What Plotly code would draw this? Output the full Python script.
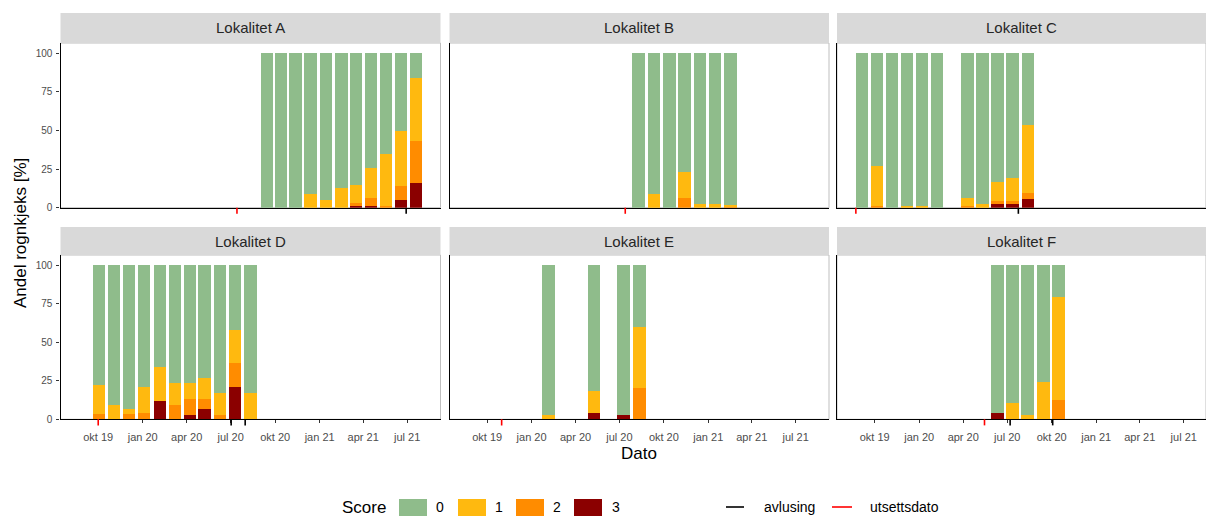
import plotly.graph_objects as go

W, H = 1206, 517

sites = ["Lokalitet A", "Lokalitet B", "Lokalitet C", "Lokalitet D", "Lokalitet E", "Lokalitet F"]
score_labels = ["0", "1", "2", "3"]
score_colors = ["#8FBC8B", "#FFB90F", "#FF8C00", "#8B0000"]

# andel (%) per score, en stolpe per prøvetaking
a_dates = ["2020-09-14", "2020-10-13", "2020-11-12", "2020-12-13", "2021-01-14", "2021-02-15",
           "2021-03-17", "2021-04-17", "2021-05-18", "2021-06-18", "2021-07-19"]
a_s0 = [100, 100, 100, 91, 95, 87, 85, 74, 65, 50, 16]
a_s1 = [0, 0, 0, 9, 5, 13, 12, 20, 34, 36, 41]
a_s2 = [0, 0, 0, 0, 0, 0, 2, 5, 1, 9, 27]
a_s3 = [0, 0, 0, 0, 0, 0, 1, 1, 0, 5, 16]

b_dates = ["2020-08-10", "2020-09-11", "2020-10-13", "2020-11-13", "2020-12-15", "2021-01-15", "2021-02-16"]
b_s0 = [100, 91, 100, 77, 97.5, 97.5, 98]
b_s1 = [0, 9, 0, 17, 2.5, 2.5, 1]
b_s2 = [0, 0, 0, 6, 0, 0, 1]
b_s3 = [0, 0, 0, 0, 0, 0, 0]

c_dates = ["2019-09-05", "2019-10-06", "2019-11-06", "2019-12-07", "2020-01-07", "2020-02-07",
           "2020-04-10", "2020-05-11", "2020-06-11", "2020-07-12", "2020-08-13"]
c_s0 = [100, 73, 100, 99, 99, 100, 93.5, 97.5, 83.5, 80.5, 46.5]
c_s1 = [0, 26, 0, 1, 1, 0, 5.5, 2.5, 12, 15, 44]
c_s2 = [0, 1, 0, 0, 0, 0, 1, 0, 2, 2, 4]
c_s3 = [0, 0, 0, 0, 0, 0, 0, 0, 2.5, 2.5, 5.5]

d_dates = ["2019-10-03", "2019-11-03", "2019-12-04", "2020-01-04", "2020-02-06", "2020-03-08",
           "2020-04-08", "2020-05-08", "2020-06-09", "2020-07-10", "2020-08-11"]
d_s0 = [78, 91, 93.5, 79, 66, 76.5, 76.5, 73, 83, 42, 83]
d_s1 = [18.5, 9, 3, 17, 22, 14.5, 10, 13.5, 14, 21.5, 17]
d_s2 = [3.5, 0, 3.5, 4, 0, 9, 10.5, 6.5, 3, 15.5, 0]
d_s3 = [0, 0, 0, 0, 12, 0, 3, 7, 0, 21, 0]

e_dates = ["2020-02-05", "2020-05-09", "2020-07-09", "2020-08-11"]
e_s0 = [97, 81.5, 97, 40]
e_s1 = [3, 14.5, 0, 39.5]
e_s2 = [0, 0, 0, 20.5]
e_s3 = [0, 4, 3, 0]

f_dates = ["2020-06-11", "2020-07-12", "2020-08-12", "2020-09-14", "2020-10-15"]
f_s0 = [96, 89.5, 97, 76, 20.5]
f_s1 = [0, 10.5, 3, 24, 67]
f_s2 = [0, 0, 0, 0, 12.5]
f_s3 = [4, 0, 0, 0, 0]

utsett_dates = ["2020-07-14", "2020-07-13", "2019-08-23", "2019-10-01", "2019-10-31", "2020-05-15"]
avlusing_dates = [["2021-06-29"], [], ["2020-07-24"], ["2020-07-02", "2020-07-31"], [], ["2020-07-07", "2020-10-03"]]

tick_dates = ["2019-10-01", "2020-01-01", "2020-04-01", "2020-07-01",
              "2020-10-01", "2021-01-01", "2021-04-01", "2021-07-01"]
tick_text = ["okt 19", "jan 20", "apr 20", "jul 20", "okt 20", "jan 21", "apr 21", "jul 21"]

site_data = [
    (a_dates, [a_s3, a_s2, a_s1, a_s0]),
    (b_dates, [b_s3, b_s2, b_s1, b_s0]),
    (c_dates, [c_s3, c_s2, c_s1, c_s0]),
    (d_dates, [d_s3, d_s2, d_s1, d_s0]),
    (e_dates, [e_s3, e_s2, e_s1, e_s0]),
    (f_dates, [f_s3, f_s2, f_s1, f_s0]),
]


def px_x(p):
    return p / W


def px_y(p):
    return 1 - p / H


col_left = [60.5, 449.5, 837]
col_right = [440.5, 829, 1206]
row_top = [43, 255]
row_bottom = [207.7, 419.3]
strip_top = [13, 227]
x_ranges = [["2019-07-15", "2021-09-08"], ["2019-07-15", "2021-09-08"], ["2019-07-15", "2021-08-16"]]

FONT = "Liberation Sans, Arial, sans-serif"
BAR_WIDTH = 26 * 86400000

fig = go.Figure()
shapes = []
annotations = []
layout = {}

for i, (site, (dates, stacks)) in enumerate(zip(sites, site_data)):
    row, col = divmod(i, 3)
    n = "" if i == 0 else str(i + 1)
    # score 3 nederst, score 0 øverst
    for vals, color in zip(stacks, score_colors[::-1]):
        fig.add_trace(go.Bar(x=dates, y=vals, width=BAR_WIDTH, marker_color=color,
                             marker_line_width=0, xaxis="x" + n, yaxis="y" + n,
                             showlegend=False, hoverinfo="x+y"))

    xa = dict(domain=[px_x(col_left[col]), px_x(col_right[col])], range=x_ranges[col],
              type="date", anchor="y" + n, showgrid=False, zeroline=False, automargin=False,
              showline=True, linecolor="black", linewidth=1.3)
    if row == 1:
        xa.update(tickvals=tick_dates, ticktext=tick_text, ticks="outside", ticklen=3,
                  ticklabelstandoff=4, tickcolor="#333333",
                  tickfont=dict(size=11, color="#4D4D4D", family=FONT))
    else:
        xa.update(showticklabels=False, ticks="")
    ya = dict(domain=[px_y(row_bottom[row]), px_y(row_top[row])], range=[0, 106.7],
              anchor="x" + n, showgrid=False, zeroline=False, automargin=False,
              showline=True, linecolor="black", linewidth=1.3)
    if col == 0:
        ya.update(tickvals=[0, 25, 50, 75, 100], ticks="outside", ticklen=3,
                  ticklabelstandoff=2, tickcolor="#333333",
                  tickfont=dict(size=10, color="#4D4D4D", family=FONT))
    else:
        ya.update(showticklabels=False, ticks="")
    layout["xaxis" + n] = xa
    layout["yaxis" + n] = ya

    # panelramme
    shapes.append(dict(type="rect", xref="paper", yref="paper", layer="below",
                       x0=px_x(col_left[col]), x1=px_x(col_right[col]),
                       y0=px_y(row_bottom[row]), y1=px_y(row_top[row]),
                       line=dict(color="#BFBFBF", width=1)))
    # stripe
    shapes.append(dict(type="rect", xref="paper", yref="paper", layer="below",
                       x0=px_x(col_left[col]), x1=px_x(col_right[col]),
                       y0=px_y(row_top[row]), y1=px_y(strip_top[row]),
                       fillcolor="#D9D9D9", line=dict(width=0)))
    annotations.append(dict(text=site, xref="paper", yref="paper", showarrow=False,
                            x=px_x((col_left[col] + min(col_right[col], col_left[col] + 380)) / 2),
                            y=px_y((row_top[row] + strip_top[row]) / 2),
                            xanchor="center", yanchor="middle",
                            font=dict(size=15, color="#262626", family=FONT)))

    # rug under aksen
    xref = "x" + n
    yref = ("y" + n) + " domain"
    for d in avlusing_dates[i]:
        shapes.append(dict(type="line", xref=xref, yref=yref, x0=d, x1=d, y0=0, y1=-0.037,
                           line=dict(color="black", width=1.6)))
    d = utsett_dates[i]
    shapes.append(dict(type="line", xref=xref, yref=yref, x0=d, x1=d, y0=0, y1=-0.037,
                       line=dict(color="#FF0000", width=1.6)))

# aksetitler
annotations.append(dict(text="Dato", xref="paper", yref="paper", showarrow=False,
                        x=px_x(638.5), y=px_y(453), xanchor="center", yanchor="middle",
                        font=dict(size=17, color="black", family=FONT)))
annotations.append(dict(text="Andel rognkjeks [%]", xref="paper", yref="paper", showarrow=False,
                        x=px_x(21), y=px_y(233), xanchor="center", yanchor="middle", textangle=-90,
                        font=dict(size=17, color="black", family=FONT)))

# forklaring
leg_y = 507
annotations.append(dict(text="Score", xref="paper", yref="paper", showarrow=False,
                        x=px_x(340), y=px_y(leg_y), xanchor="left", yanchor="middle",
                        font=dict(size=17, color="black", family=FONT)))
key_left = [399, 458, 516, 574]
label_x = [440, 498.5, 557, 615.5]
for lab, color, kx, lx in zip(score_labels, score_colors, key_left, label_x):
    shapes.append(dict(type="rect", xref="paper", yref="paper",
                       x0=px_x(kx), x1=px_x(kx + 28), y0=px_y(516), y1=px_y(499),
                       fillcolor=color, line=dict(width=0)))
    annotations.append(dict(text=lab, xref="paper", yref="paper", showarrow=False,
                            x=px_x(lx), y=px_y(leg_y), xanchor="center", yanchor="middle",
                            font=dict(size=14, color="black", family=FONT)))
for (x0, x1), color, tx, lab in [((726, 744), "black", 762, "avlusing"),
                                 ((832, 852), "#FF0000", 867.5, "utsettsdato")]:
    shapes.append(dict(type="line", xref="paper", yref="paper",
                       x0=px_x(x0), x1=px_x(x1), y0=px_y(leg_y), y1=px_y(leg_y),
                       line=dict(color=color, width=1.6)))
    annotations.append(dict(text=lab, xref="paper", yref="paper", showarrow=False,
                            x=px_x(tx), y=px_y(leg_y), xanchor="left", yanchor="middle",
                            font=dict(size=14, color="black", family=FONT)))

fig.update_layout(
    width=W, height=H,
    margin=dict(l=0, r=0, t=0, b=0, pad=0),
    barmode="stack",
    plot_bgcolor="white",
    paper_bgcolor="white",
    font=dict(family=FONT),
    shapes=shapes,
    annotations=annotations,
    **layout,
)

# sidens standardmarg på 8 px ville ellers flytte figuren
fig.write_html("out.html", config={"displayModeBar": False},
               post_script="document.body.style.margin='0';document.body.style.overflow='hidden';")
